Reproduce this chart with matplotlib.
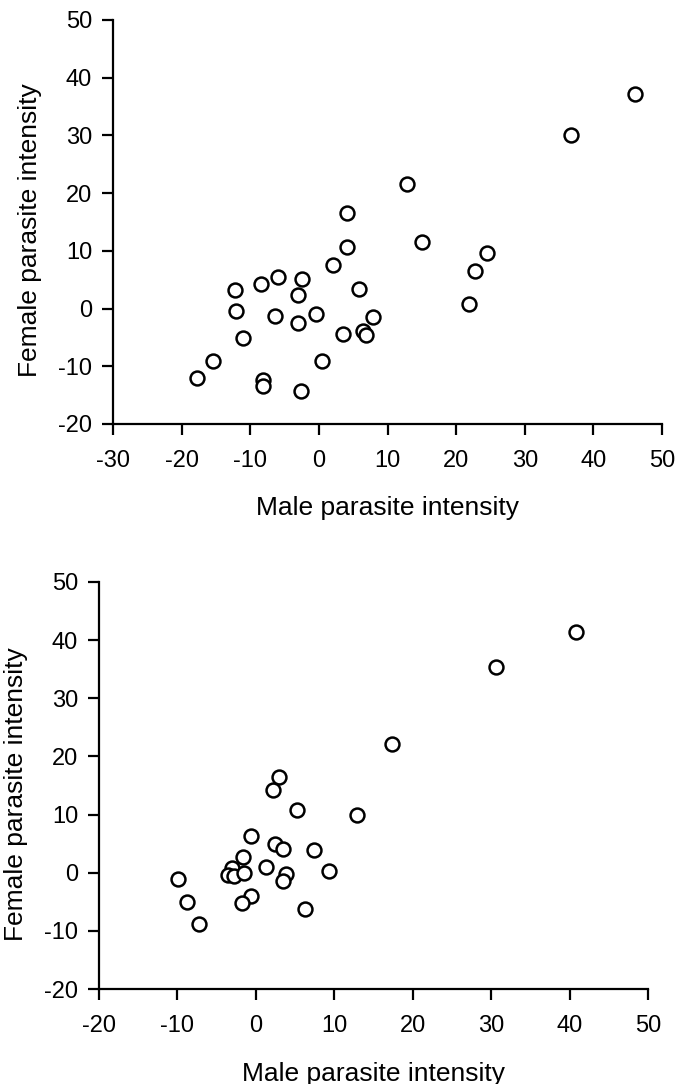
#!/usr/bin/env python3
"""Female vs male parasite intensity, two scatter panels."""

import matplotlib
matplotlib.use("Agg")
import matplotlib.pyplot as plt

plt.rcParams['font.family'] = ['Liberation Sans', 'DejaVu Sans']
plt.rcParams['axes.unicode_minus'] = False

# upper panel
top_male = [46.0, 36.7, 12.9, 4.1, 15.0, 4.1, 24.5, 22.8, 2.0, -6.0,
            -2.5, -8.4, -12.2, 5.9, -3.0, 21.9, -12.1, -0.4, -6.4, 7.9,
            -3.0, -11.0, 3.5, 6.5, 6.9, -15.5, 0.4, -17.7, -8.2, -8.2, -2.6]
top_female = [37.1, 30.1, 21.5, 16.6, 11.6, 10.7, 9.7, 6.5, 7.5, 5.5,
              5.2, 4.2, 3.3, 3.4, 2.4, 0.8, -0.4, -0.9, -1.3, -1.4,
              -2.5, -5.1, -4.4, -3.8, -4.6, -9.0, -9.1, -12.1, -12.3, -13.5, -14.3]

# lower panel
bot_male = [40.8, 30.6, 17.4, 2.9, 2.2, 5.3, 12.9, -0.6, 2.4, 3.4,
            7.4, -1.7, 1.3, 9.3, -3.1, -3.5, -2.8, -1.5, 3.9, -9.9,
            3.5, -8.8, -0.6, -1.8, 6.3, -7.3]
bot_female = [41.4, 35.3, 22.2, 16.5, 14.3, 10.8, 9.9, 6.4, 5.0, 4.0,
              3.9, 2.7, 1.0, 0.3, 0.8, -0.4, -0.5, -0.1, -0.3, -1.0,
              -1.5, -5.0, -4.0, -5.2, -6.2, -8.8]

top_xticks = list(range(-30, 51, 10))
bot_xticks = list(range(-20, 51, 10))
yticks = list(range(-20, 51, 10))

W, H = 690, 1084
fig = plt.figure(figsize=(W / 100, H / 100), dpi=100)

# axes boxes in pixels: left, right, top, bottom
panels = [
    (113, 662, 20, 424, top_male, top_female, top_xticks),
    (99, 648, 582, 989, bot_male, bot_female, bot_xticks),
]

for left, right, top, bottom, xs, ys, xt in panels:
    ax = fig.add_axes([left / W, 1 - bottom / H, (right - left) / W, (bottom - top) / H])
    ax.plot(xs, ys, 'o', ms=10, mfc='white', mec='black', mew=1.8,
            linestyle='none', clip_on=False)
    ax.set_xlim(xt[0], xt[-1])
    ax.set_ylim(yticks[0], yticks[-1])
    ax.set_xticks(xt)
    ax.set_yticks(yticks)
    for side in ('top', 'right'):
        ax.spines[side].set_visible(False)
    for side in ('left', 'bottom'):
        ax.spines[side].set_linewidth(1.6)
    ax.tick_params(direction='out', length=8, width=1.6, labelsize=17)
    ax.tick_params(axis='x', pad=11)
    ax.tick_params(axis='y', pad=7)

    ax.set_xlabel("Male parasite intensity", fontsize=19)
    ax.xaxis.set_label_coords(0.5, -0.208)
    ax.xaxis.label.set_verticalalignment('center')
    ax.set_ylabel("Female parasite intensity", fontsize=19)
    ax.yaxis.set_label_coords(-0.151, 0.48)
    ax.yaxis.label.set_verticalalignment('center')

fig.savefig("out.png", dpi=100)
